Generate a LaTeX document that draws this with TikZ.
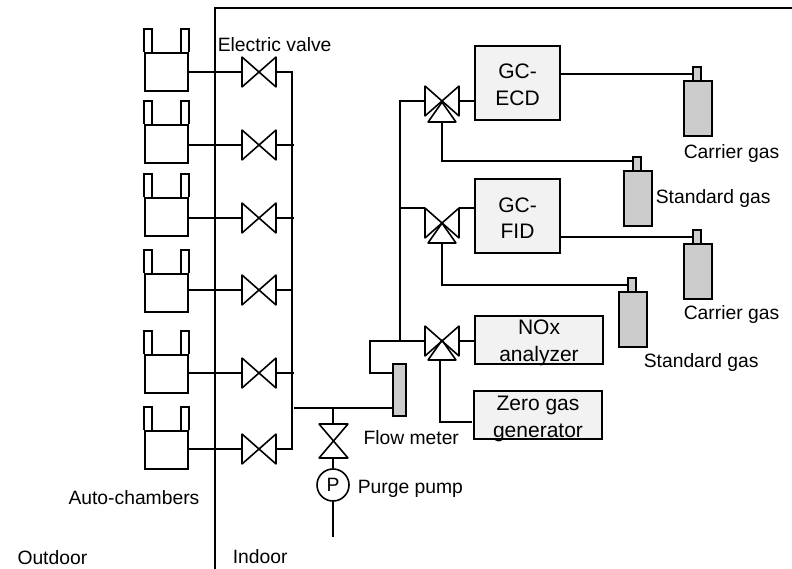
\documentclass[tikz,border=0pt]{standalone}
\usepackage{fontspec}
\setmainfont{Liberation Sans}
\usepackage{tikz}
\usetikzlibrary{calc}
\usetikzlibrary{positioning}
\tikzset{
  lbl/.style={inner sep=0pt, font=\fontsize{19.3}{23}\selectfont},
  boxtxt/.style={inner sep=0pt, align=center, font=\fontsize{21}{26.5}\selectfont},
  anabox/.style={draw, fill=black!5, inner sep=0pt},
  chamber/.style={draw, minimum width=43pt, minimum height=38pt, inner sep=0pt,
    append after command={
      (\tikzlastnode.north west) edge[to path={-- ++(0,-23) -- ++(8,0) -- ++(0,23)}] (\tikzlastnode.north)
      (\tikzlastnode.north east) edge[to path={-- ++(0,-23) -- ++(-8,0) -- ++(0,23)}] (\tikzlastnode.north)}},
  valve/.style={minimum width=32pt, minimum height=28pt, inner sep=0pt,
    append after command={
      (\tikzlastnode.north west) edge[line cap=round] (\tikzlastnode.south east)
      (\tikzlastnode.south east) edge[line cap=round] (\tikzlastnode.north east)
      (\tikzlastnode.north east) edge[line cap=round] (\tikzlastnode.south west)
      (\tikzlastnode.south west) edge[line cap=round] (\tikzlastnode.north west)}},
  valveup/.style={minimum width=27pt, minimum height=32pt, inner sep=0pt,
    append after command={
      (\tikzlastnode.north west) edge[line cap=round] (\tikzlastnode.north east)
      (\tikzlastnode.north east) edge[line cap=round] (\tikzlastnode.south west)
      (\tikzlastnode.south west) edge[line cap=round] (\tikzlastnode.south east)
      (\tikzlastnode.south east) edge[line cap=round] (\tikzlastnode.north west)}},
  wedge/.style={minimum width=26pt, minimum height=18pt, inner sep=0pt,
    append after command={
      (\tikzlastnode.north) edge[line cap=round] (\tikzlastnode.south west)
      (\tikzlastnode.south west) edge[line cap=round] (\tikzlastnode.south east)
      (\tikzlastnode.south east) edge[line cap=round] (\tikzlastnode.north)}},
  gasbody/.style={draw, fill=black!20, minimum width=28pt, minimum height=55pt, inner sep=0pt},
  gasneck/.style={draw, fill=black!20, minimum width=8pt, minimum height=14pt, inner sep=0pt},
}
\begin{document}
\begin{tikzpicture}[x=1pt, y=-1pt, line width=1.6pt]
  \useasboundingbox (0,0) rectangle (792,569);

  \draw [line width=1.8pt] (215,569) -- (215,8) -- (792,8);

  % chambers and valves
  \node [chamber] (c1) at (166.5,72) {};
  \node [chamber] (c2) at (166.5,144) {};
  \node [chamber] (c3) at (166.5,217) {};
  \node [chamber] (c4) at (166.5,293) {};
  \node [chamber] (c5) at (166.5,374) {};
  \node [chamber] (c6) at (166.5,450) {};
  \node [valve] (v1) at (259,72) {};
  \node [valve] (v2) at (259,145) {};
  \node [valve] (v3) at (259,218) {};
  \node [valve] (v4) at (259,290) {};
  \node [valve] (v5) at (259,373) {};
  \node [valve] (v6) at (259,449) {};
  \coordinate (bus) at (292,0);
  \coordinate (stub) at (294,0);

  \draw (c1.east |- v1.east) -- (v1.west);
  \draw (c2.east |- v2.east) -- (v2.west);
  \draw (c3.east |- v3.east) -- (v3.west);
  \draw (c4.east |- v4.east) -- (v4.west);
  \draw (c5.east |- v5.east) -- (v5.west);
  \draw (c6.east |- v6.east) -- (v6.west);
  \draw (v1.east) -- (v1.east -| bus) -- (v6.east -| bus) -- (v6.east);
  \draw (v2.east) -- (v2.east -| stub);
  \draw (v3.east) -- (v3.east -| stub);
  \draw (v4.east) -- (v4.east -| bus);
  \draw (v5.east) -- (v5.east -| stub);

  % purge line
  \node [draw, fill=black!20, minimum width=13pt, minimum height=52pt, inner sep=0pt] (fm) at (399.5,390) {};
  \node [valveup] (pv) at (333.5,441) {};
  \node [draw, circle, minimum size=32pt, inner sep=0pt, lbl] (pp) at (333,485) {P};
  \coordinate (tee) at (333,408);
  \coordinate (vent) at (333,537);
  \draw (fm.west |- tee) -- (tee -| stub);
  \draw (tee) -- (pv.north -| tee);
  \draw (pv.south -| tee) -- (pp.north);
  \draw (pp.south) -- (vent);

  % analyzers
  \node [anabox, minimum width=85pt, minimum height=74pt] (ecd) at (517.5,83) {};
  \node [anabox, minimum width=85pt, minimum height=74pt] (fid) at (517.5,216) {};
  \node [anabox, minimum width=128pt, minimum height=48pt] (nox) at (539,340) {};
  \node [anabox, minimum width=128pt, minimum height=48pt] (zero) at (538,415) {};
  \node [boxtxt] (ecdt) at (517.5,85) {GC-\\ECD};
  \node [boxtxt] (fidt) at (517.5,218) {GC-\\FID};
  \node [boxtxt] (noxt) at (539,342.7) {NOx\\analyzer};
  \node [boxtxt] (zerot) at (538,419) {Zero gas\\generator};
  \node [valve] (va) at (442,101) {};
  \node [valve] (vb) at (442,223) {};
  \node [valve] (vc) at (442,341) {};
  \node [wedge] (wa) at (442,112) {};
  \node [wedge] (wb) at (442,233) {};
  \node [wedge] (wc) at (442,350) {};
  \coordinate (riser) at (400,0);
  \coordinate (elbow) at (370,373);
  \coordinate (zr) at (440,422);

  \draw (va.west) -- (va.west -| riser) -- (vc.west -| riser);
  \draw (vb.north west -| riser) -- (vb.north west);
  \draw (vb.north east) -- (vb.north east -| fid.west);
  \draw (vc.west) -| (elbow) -- (elbow -| fm.west);
  \draw (va.east) -- (va.east -| ecd.west);
  \draw (vc.east) -- (vc.east -| nox.west);
  \draw (zr |- wc.south) -- (zr) -- ++(32,0);

  % gas bottles
  \node [gasbody] (cb1) at (698,108.5) {};
  \node [gasneck] (cn1) at (697,74) {};
  \node [gasbody] (sb1) at (638,198.5) {};
  \node [gasneck] (sn1) at (637,164) {};
  \node [gasbody] (cb2) at (698,271.5) {};
  \node [gasneck] (cn2) at (697,237) {};
  \node [gasbody] (sb2) at (633,319.5) {};
  \node [gasneck] (sn2) at (632,285) {};

  \draw (ecd.east |- cn1) -- (cn1.west);
  \draw (fid.east |- cn2) -- (cn2.west);
  \draw (wa.south) |- ($(sn1.north west)+(0,5)$);
  \draw (wb.south) |- (sn2.west);

  % labels
  \node [lbl, anchor=west] (ev) at (217,45) {Electric valve};
  \node [lbl, anchor=west] (ac) at (67.7,497.5) {Auto-chambers};
  \node [lbl, anchor=west] (od) at (16.7,557.5) {Outdoor};
  \node [lbl, anchor=west] (id) at (232,557) {Indoor};
  \node [lbl, anchor=west] (fl) at (362.7,437.5) {Flow meter};
  \node [lbl, anchor=west] (pl) at (357,489) {Purge pump};
  \node [lbl, anchor=west] (c1l) at (683,153.5) {Carrier gas};
  \node [lbl, anchor=west] (s1l) at (655,199) {Standard gas};
  \node [lbl, anchor=west] (c2l) at (683,315) {Carrier gas};
  \node [lbl, anchor=west] (s2l) at (643,363) {Standard gas};
\end{tikzpicture}
\end{document}
